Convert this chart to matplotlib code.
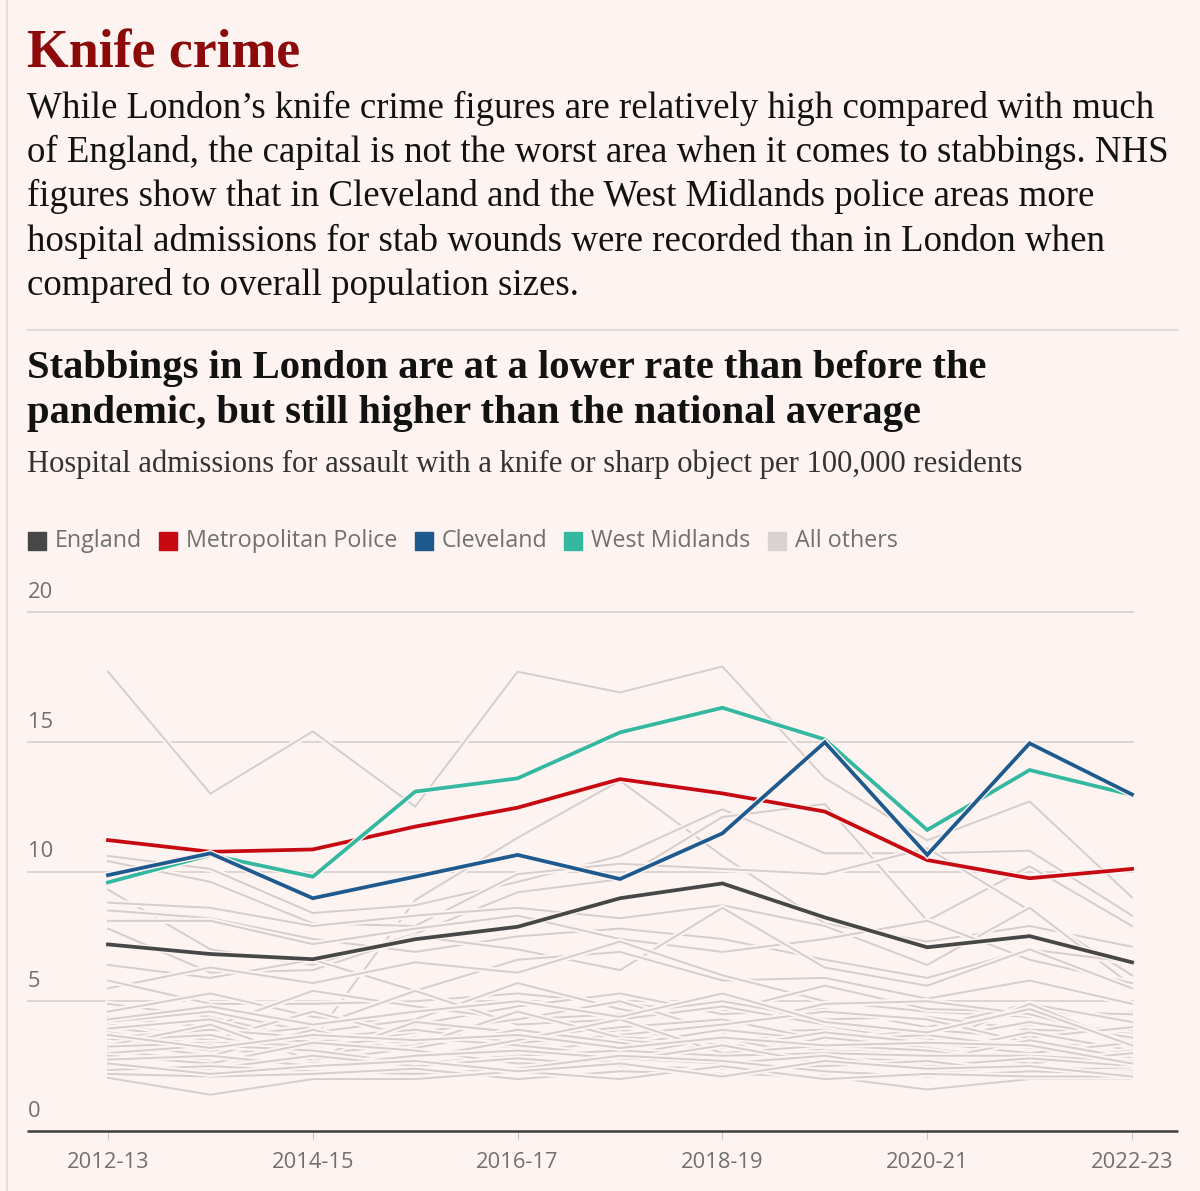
import matplotlib
matplotlib.use('Agg')
from matplotlib import pyplot as plt
import matplotlib.patheffects as pe

W, H = 1200, 1191
BG = '#fdf4f2'

years = ['2012-13', '2013-14', '2014-15', '2015-16', '2016-17', '2017-18',
         '2018-19', '2019-20', '2020-21', '2021-22', '2022-23']
tick_years = ['2012-13', '2014-15', '2016-17', '2018-19', '2020-21', '2022-23']
y_ticks = [0, 5, 10, 15, 20]

england = [7.19, 6.82, 6.62, 7.39, 7.87, 8.97, 9.54, 8.23, 7.08, 7.51, 6.50]
met_police = [11.21, 10.76, 10.85, 11.73, 12.46, 13.56, 13.01, 12.31, 10.44, 9.74, 10.10]
cleveland = [9.86, 10.70, 8.97, 9.80, 10.64, 9.71, 11.47, 14.98, 10.64, 14.94, 12.97]
west_midlands = [9.58, 10.64, 9.80, 13.08, 13.59, 15.36, 16.31, 15.09, 11.60, 13.91, 12.95]

# every other police force area (read roughly off the grey bundle)
others = [
    [17.7, 13.0, 15.4, 12.5, 17.7, 16.9, 17.9, 13.6, 11.2, 12.7, 9.0],
    [4.9, 4.4, 3.5, 8.9, 11.3, 13.5, 10.6, 8.0, 7.3, 7.9, 7.1],
    [10.6, 10.1, 8.4, 8.7, 9.6, 10.6, 12.4, 10.7, 10.7, 10.8, 8.3],
    [9.3, 7.0, 6.4, 7.6, 9.2, 9.7, 12.1, 12.6, 8.1, 10.2, 7.9],
    [10.4, 9.6, 8.0, 7.9, 9.9, 10.3, 10.1, 9.9, 10.9, 8.5, 6.0],
    [8.8, 8.6, 7.9, 8.3, 8.6, 8.2, 8.7, 7.9, 6.4, 8.6, 5.6],
    [8.5, 8.2, 7.4, 6.9, 7.5, 7.8, 7.4, 6.6, 5.9, 7.0, 6.5],
    [8.1, 8.1, 7.2, 7.8, 8.3, 7.4, 6.9, 7.4, 8.1, 6.6, 5.7],
    [7.8, 6.1, 6.2, 7.5, 7.0, 6.2, 8.6, 6.3, 5.6, 7.0, 5.5],
    [6.4, 5.9, 6.6, 5.4, 6.6, 6.9, 5.8, 5.9, 5.1, 5.8, 4.9],
    [5.5, 6.3, 5.7, 6.5, 6.1, 7.3, 6.0, 5.0, 4.6, 4.4, 4.6],
    [5.8, 4.9, 4.9, 5.0, 5.3, 4.9, 4.6, 5.6, 4.7, 4.6, 4.5],
    [4.6, 5.3, 4.4, 4.1, 4.8, 5.3, 4.5, 4.7, 4.0, 4.9, 4.2],
    [4.4, 4.0, 5.4, 4.8, 4.3, 4.5, 5.0, 4.3, 4.4, 3.9, 3.8],
    [4.2, 4.6, 3.8, 4.3, 5.7, 4.7, 4.0, 4.9, 5.0, 4.5, 3.5],
    [4.1, 3.6, 4.0, 5.4, 4.1, 4.3, 4.8, 4.1, 3.6, 4.1, 3.9],
    [4.0, 3.5, 4.6, 3.6, 3.2, 3.9, 3.3, 4.0, 3.5, 4.2, 3.6],
    [3.95, 4.3, 3.2, 3.8, 4.3, 5.0, 3.8, 3.9, 3.3, 4.9, 3.3],
    [3.8, 3.3, 3.5, 3.4, 3.6, 4.0, 4.3, 3.5, 3.9, 3.6, 4.0],
    [3.6, 3.9, 3.6, 3.9, 3.4, 3.7, 4.1, 4.6, 4.3, 3.4, 3.2],
    [3.55, 3.1, 3.0, 3.3, 4.6, 3.6, 3.5, 3.1, 3.0, 3.8, 3.1],
    [3.5, 3.7, 2.8, 4.2, 3.8, 3.3, 3.9, 3.5, 3.7, 3.2, 2.9],
    [3.4, 2.9, 3.9, 3.0, 3.0, 3.5, 3.2, 3.8, 3.4, 3.0, 3.4],
    [3.3, 4.1, 2.7, 3.2, 3.9, 3.4, 2.8, 3.6, 3.2, 2.7, 3.1],
    [3.25, 3.4, 3.3, 3.6, 3.3, 2.9, 3.6, 2.8, 2.7, 3.5, 2.8],
    [3.1, 2.7, 2.6, 2.8, 3.5, 4.3, 3.0, 3.3, 3.1, 2.6, 3.0],
    [3.0, 3.3, 3.1, 2.6, 2.9, 3.1, 2.9, 3.0, 2.9, 2.9, 2.7],
    [2.9, 2.6, 3.4, 3.1, 2.6, 2.7, 3.3, 2.6, 2.5, 2.8, 2.5],
    [2.75, 2.9, 2.5, 2.9, 3.1, 2.8, 2.6, 2.9, 2.3, 2.4, 2.4],
    [2.5, 2.4, 2.9, 2.5, 2.8, 2.5, 2.4, 2.5, 2.7, 2.2, 2.3],
    [2.35, 2.5, 2.3, 2.2, 2.4, 2.9, 2.7, 2.3, 2.1, 2.3, 2.2],
    [2.2, 2.1, 2.2, 2.4, 2.0, 2.3, 2.2, 2.1, 1.6, 2.0, 2.0],
    [2.05, 1.4, 2.0, 2.0, 2.3, 2.0, 2.5, 2.0, 2.2, 2.1, 2.1],
    [4.3, 4.8, 4.1, 4.6, 5.0, 4.4, 5.3, 4.2, 3.8, 4.7, 3.3],
    [3.7, 3.2, 3.7, 3.5, 3.7, 3.2, 3.6, 3.3, 3.4, 3.3, 2.6],
    [2.6, 2.2, 2.5, 2.7, 2.3, 2.6, 2.1, 2.7, 2.4, 2.5, 2.1],
]

intro = [
    "While London\u2019s knife crime figures are relatively high compared with much",
    "of England, the capital is not the worst area when it comes to stabbings. NHS",
    "figures show that in Cleveland and the West Midlands police areas more",
    "hospital admissions for stab wounds were recorded than in London when",
    "compared to overall population sizes.",
]
headline = [
    "Stabbings in London are at a lower rate than before the",
    "pandemic, but still higher than the national average",
]
subtitle = "Hospital admissions for assault with a knife or sharp object per 100,000 residents"

legend_items = [('England', '#474747'), ('Metropolitan Police', '#c70a12'),
                ('Cleveland', '#1f5a8e'), ('West Midlands', '#35b8a0'),
                ('All others', '#d9d2d0')]

SERIF = 'Liberation Serif'
SANS = 'Open Sans'

fig = plt.figure(figsize=(W / 100, H / 100), dpi=100, facecolor=BG)
renderer = fig.canvas.get_renderer()


def fx(x):
    return x / W


def fy(y):
    return 1 - y / H


def fit_size(text, width, **kw):
    t = fig.text(0, 0, text, fontsize=20, **kw)
    w = t.get_window_extent(renderer).width
    t.remove()
    return 20 * width / w


# left border
fig.add_artist(plt.Line2D([fx(7), fx(7)], [0, 1], color='#e6dcda', lw=1.5))

# title + intro
fs = fit_size('Knife crime', 274, family=SERIF, weight='bold')
fig.text(fx(27), fy(68), 'Knife crime', fontsize=fs, family=SERIF, weight='bold',
         color='#8c0a0a', va='baseline')

fs = fit_size(intro[1], 1139, family=SERIF)
for k, line in enumerate(intro):
    fig.text(fx(27), fy(118 + 44.2 * k), line, fontsize=fs, family=SERIF,
             color='#121212', va='baseline')

fig.add_artist(plt.Line2D([fx(27), fx(1178)], [fy(330), fy(330)], color='#ddd5d3', lw=1.2))

fs = fit_size(headline[0], 960, family=SERIF, weight='bold')
for k, line in enumerate(headline):
    fig.text(fx(27), fy(378 + 45 * k), line, fontsize=fs, family=SERIF, weight='bold',
             color='#121212', va='baseline')

fs = fit_size(subtitle, 996, family=SERIF)
fig.text(fx(27), fy(472), subtitle, fontsize=fs, family=SERIF, color='#333333', va='baseline')

# legend
leg_fs = fit_size('Metropolitan Police', 211, family=SANS)
x = 28
for label, col in legend_items:
    fig.patches.append(plt.Rectangle((fx(x), fy(550)), 18 / W, 18 / H, color=col,
                                     transform=fig.transFigure, figure=fig))
    t = fig.text(fx(x + 27), fy(541), label, fontsize=leg_fs, family=SANS,
                 color='#707070', va='center')
    x = x + 27 + t.get_window_extent(renderer).width + 17

# chart area
x_lo = (27 - 108) / 102.4
x_hi = (1178 - 108) / 102.4
ax = fig.add_axes([fx(27), fy(1131), (1178 - 27) / W, (1131 - 612) / H])
ax.set_facecolor('none')
ax.set_xlim(x_lo, x_hi)
ax.set_ylim(0, 20)
for s in ax.spines.values():
    s.set_visible(False)

xs = list(range(len(years)))
grid_x_start = x_lo + 1 / 102.4
for v in y_ticks[1:]:
    ax.plot([grid_x_start, xs[-1] + 0.01], [v, v], color='#ddd5d3', lw=1.4, zorder=1,
            clip_on=False)
tick_fs = fit_size('2012-13', 82, family=SANS)
for v in y_ticks:
    ax.text(grid_x_start, v + 0.76, str(v), fontsize=tick_fs, family=SANS,
            color='#707070', va='center', ha='left')

halo = 3.0
for series in others:
    ax.plot(xs, series, color='#d5cecc', lw=1.4, zorder=2, clip_on=False,
            solid_joinstyle='miter',
            path_effects=[pe.Stroke(linewidth=1.4 + halo, foreground=BG), pe.Normal()])

for series, col in [(england, '#474747'), (met_police, '#c70a12'),
                    (west_midlands, '#35b8a0'), (cleveland, '#1f5a8e')]:
    ax.plot(xs, series, color=col, lw=2.7, zorder=3, clip_on=False,
            solid_joinstyle='miter',
            path_effects=[pe.Stroke(linewidth=2.7 + 2.0, foreground=BG), pe.Normal()])

ax.plot([x_lo, x_hi], [0, 0], color='#3d3d3d', lw=1.8, zorder=4, clip_on=False,
        solid_capstyle='butt')

tick_pos = [years.index(t) for t in tick_years]
ax.set_yticks([])
ax.set_xticks(tick_pos)
ax.set_xticklabels(tick_years, fontsize=tick_fs, family=SANS, color='#707070')
ax.tick_params(axis='x', length=6, width=0.8, color='#c9c1bf', pad=9)

fig.savefig('out.png', dpi=100, facecolor=BG)
